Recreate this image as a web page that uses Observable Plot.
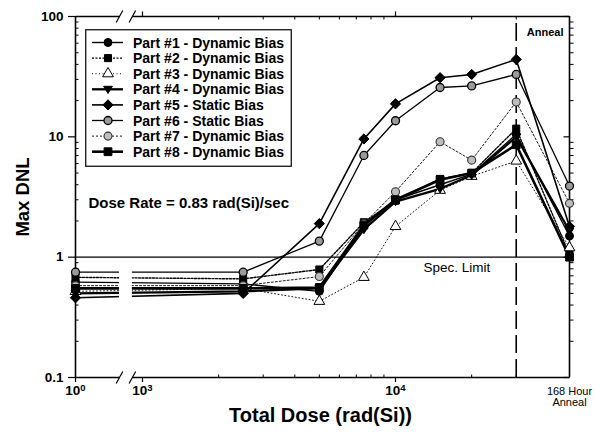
<!DOCTYPE html>
<html><head><meta charset="utf-8">
<script src="https://cdn.jsdelivr.net/npm/d3@7"></script>
<script src="https://cdn.jsdelivr.net/npm/@observablehq/plot@0.6"></script>
<style>
body{margin:0;background:#fff;font-family:"Liberation Sans",Arial,sans-serif}
#wrap{position:relative;width:594px;height:436px;overflow:hidden}
#legend{position:absolute;left:85px;top:29px}
</style></head>
<body><div id="wrap"></div>
<script>
// ---- data ----
const doses = [1, 2500, 5000, 7500, 10000, 15000, 20000, 30000, "Anneal"];
const partNames = [
  "Part #1 - Dynamic Bias", "Part #2 - Dynamic Bias", "Part #3 - Dynamic Bias",
  "Part #4 - Dynamic Bias", "Part #5 - Static Bias", "Part #6 - Static Bias",
  "Part #7 - Dynamic Bias", "Part #8 - Dynamic Bias"
];
const part1 = [0.62, 0.60, 0.52, 1.80, 3.00, 4.00, 4.90, 10.5, 1.50];
const part2 = [0.68, 0.66, 0.79, 1.95, 2.95, 4.47, 5.00, 11.7, 1.05];
const part3 = [0.52, 0.55, 0.43, 0.68, 1.80, 3.60, 4.70, 6.30, 1.20];
const part4 = [0.50, 0.52, 0.55, 1.70, 2.90, 3.70, 4.80, 10.0, 1.65];
const part5 = [0.46, 0.50, 1.90, 9.60, 18.8, 31.0, 33.0, 44.0, 1.80];
const part6 = [0.75, 0.75, 1.36, 7.00, 13.6, 25.7, 26.5, 33.0, 3.90];
const part7 = [0.58, 0.58, 0.69, 1.90, 3.50, 9.10, 6.40, 19.5, 2.80];
const part8 = [0.55, 0.55, 0.56, 1.85, 3.00, 4.40, 5.00, 8.60, 1.00];
const series = [part1, part2, part3, part4, part5, part6, part7, part8];

const yTicks = [0.1, 1, 10, 100];
const yTickLabels = ["0.1", "1", "10", "100"];
const xTickDoses = [1, 1000, 10000];
const xTickLabels = ["10\u2070", "10\u00B3", "10\u2074"];
const annealLabel = "168 Hour\nAnneal";
const specLimit = 1;
const annealDose = 30000;

// ---- broken axis coordinate ----
const U_ZERO = -0.2648, U_ANNEAL = 1.6877;
const BREAK_A = -0.091, BREAK_B = -0.040;
const xPos = d => d === "Anneal" ? U_ANNEAL : d <= 1 ? U_ZERO : Math.log10(d) - 3;

// ---- styles ----
const downTri = {draw(ctx, size){const r=Math.sqrt(size/Math.PI);ctx.moveTo(0,r*1.05);ctx.lineTo(-r*1.1,-r*0.75);ctx.lineTo(r*1.1,-r*0.75);ctx.closePath();}};
const styles = [
  {sym: d3.symbolCircle,   fill:"#000", stroke:"#000", sw:1.4, dash:null,     r:4,   mw:1},
  {sym: d3.symbolSquare,   fill:"#000", stroke:"#000", sw:1.4, dash:"2,1.5",  r:4,   mw:1},
  {sym: d3.symbolTriangle, fill:"#fff", stroke:"#000", sw:0.9, dash:"1,2.5",  r:4,   mw:1},
  {sym: downTri,           fill:"#000", stroke:"#000", sw:2.3, dash:null,     r:4,   mw:1},
  {sym: d3.symbolDiamond2, fill:"#000", stroke:"#000", sw:1.6, dash:null,     r:4.6, mw:1},
  {sym: d3.symbolCircle,   fill:"#9a9a9a", stroke:"#000", sw:1.3, dash:null, r:4,   mw:1.3},
  {sym: d3.symbolCircle,   fill:"#bdbdbd", stroke:"#333", sw:0.9, dash:"2,2", r:4,   mw:1.1},
  {sym: d3.symbolSquare,   fill:"#000", stroke:"#000", sw:2.6, dash:null,     r:4.4, mw:1}
];

const tickSym = (dx, dy) => ({draw(ctx, size){const r=Math.sqrt(size/Math.PI);ctx.moveTo(0,0);ctx.lineTo(dx*r,dy*r);}});
const slashSym = {draw(ctx, size){const r=Math.sqrt(size/Math.PI);ctx.moveTo(-r*0.55,r);ctx.lineTo(r*0.55,-r);}};

const rows = series.map((vals, i) => doses.map((d, j) => ({part: partNames[i], dose: d, value: vals[j]})));

const yMinor = [];
for (const dec of [0.1, 1, 10]) for (let k = 2; k <= 9; k++) yMinor.push(+(k*dec).toPrecision(3));
const xMinor = [];
for (let k = 2; k <= 9; k++) xMinor.push(k*1000);
xMinor.push(20000, 30000);

const lineMarks = rows.map((r, i) => Plot.line(r, {
  x: d => xPos(d.dose), y: "value", stroke: "#000",
  strokeWidth: styles[i].sw, strokeDasharray: styles[i].dash || undefined
}));
const dotMarks = rows.map((r, i) => Plot.dot(r, {
  x: d => xPos(d.dose), y: "value", r: styles[i].r, symbol: styles[i].sym,
  fill: styles[i].fill, stroke: styles[i].stroke, strokeWidth: styles[i].mw
}));

const axisSegs = [{a: U_ZERO, b: BREAK_A}, {a: BREAK_B, b: U_ANNEAL}];
const frameCol = "#000";
const xTickU = xTickDoses.map(xPos);

const chart = Plot.plot({
  width: 594, height: 436,
  marginLeft: 75, marginRight: 25, marginTop: 16, marginBottom: 59,
  x: {type: "linear", domain: [U_ZERO, U_ANNEAL], axis: null},
  y: {type: "log", domain: [0.1, 100], axis: null},
  style: {fontFamily: "'Liberation Sans', Arial, sans-serif", color: "#000", background: "#fff"},
  marks: [
    ...lineMarks,
    Plot.rect([0], {x1: () => BREAK_A, x2: () => BREAK_B, y1: () => 0.1, y2: () => 100, fill: "#fff"}),
    Plot.ruleY([specLimit], {x1: U_ZERO, x2: U_ANNEAL, stroke: "#000", strokeWidth: 1.1}),
    Plot.ruleX([annealDose], {x: d => xPos(d), y1: 0.1, y2: 100, stroke: "#000", strokeWidth: 1.6, strokeDasharray: "18,6"}),
    // frame
    Plot.ruleX([U_ZERO, U_ANNEAL], {y1: 0.1, y2: 100, stroke: frameCol, strokeWidth: 1.6}),
    Plot.link(axisSegs, {x1: "a", x2: "b", y1: () => 0.1, y2: () => 0.1, stroke: frameCol, strokeWidth: 1.6}),
    Plot.link(axisSegs, {x1: "a", x2: "b", y1: () => 100, y2: () => 100, stroke: frameCol, strokeWidth: 1.4}),
    Plot.dot([BREAK_A, BREAK_B], {x: d => d, y: () => 0.1, symbol: slashSym, r: 6, fill: "none", stroke: "#000", strokeWidth: 1.2}),
    Plot.dot([BREAK_A, BREAK_B], {x: d => d, y: () => 100, symbol: slashSym, r: 6, fill: "none", stroke: "#000", strokeWidth: 1.2}),
    // minor ticks
    Plot.dot(yMinor, {x: () => U_ZERO, y: d => d, symbol: tickSym(1, 0), r: 3, fill: "none", stroke: "#000", strokeWidth: 1}),
    Plot.dot(yMinor, {x: () => U_ANNEAL, y: d => d, symbol: tickSym(1, 0), r: 4, fill: "none", stroke: "#000", strokeWidth: 1}),
    Plot.dot(yTicks, {x: () => U_ANNEAL, y: d => d, symbol: tickSym(-1, 0), r: 6, fill: "none", stroke: "#000", strokeWidth: 1.2}),
    Plot.dot(xMinor, {x: d => xPos(d), y: () => 0.1, symbol: tickSym(0, -1), r: 3, fill: "none", stroke: "#000", strokeWidth: 1}),
    Plot.dot(xMinor, {x: d => xPos(d), y: () => 100, symbol: tickSym(0, 1), r: 3, fill: "none", stroke: "#000", strokeWidth: 1}),
    Plot.dot(xTickDoses.slice(1), {x: d => xPos(d), y: () => 100, symbol: tickSym(0, -1), r: 5, fill: "none", stroke: "#000", strokeWidth: 1.2}),
    // axes
    Plot.axisY({ticks: yTicks, tickFormat: d => yTickLabels[yTicks.indexOf(d)], tickSize: 7, tickPadding: 5,
      fontSize: 13.5, fontWeight: "bold", strokeWidth: 1.2, label: null}),
    Plot.axisX({ticks: xTickU, tickFormat: u => xTickLabels[xTickU.indexOf(u)],
      tickSize: 5, tickPadding: 3, fontSize: 13.5, fontWeight: "bold", strokeWidth: 1.2, label: null}),
    Plot.text([annealLabel], {x: () => U_ANNEAL, y: () => 0.1, text: d => d, dy: 9, lineAnchor: "top",
      fontSize: 11, lineHeight: 1.05}),
    Plot.text(["Max DNL"], {text: d => d, frameAnchor: "left", textAnchor: "middle", rotate: -90, dx: -52, fontSize: 18.5, fontWeight: "bold"}),
    Plot.text(["Total Dose (rad(Si))"], {text: d => d, frameAnchor: "bottom", textAnchor: "middle", dx: -2, dy: 44, fontSize: 20, fontWeight: "bold"}),
    Plot.text(["Dose Rate = 0.83 rad(Si)/sec"], {text: d => d, frameAnchor: "top-left", dx: 13, dy: 181, textAnchor: "start", fontSize: 15, fontWeight: "bold"}),
    Plot.text(["Spec. Limit"], {text: d => d, x: () => xPos(annealDose), y: () => specLimit, dx: -26, dy: 11, textAnchor: "end", fontSize: 13.5}),
    Plot.text(["Anneal"], {text: d => d, x: () => U_ANNEAL, y: () => 100, dx: -6, dy: 16, textAnchor: "end", fontSize: 11, fontWeight: "bold"}),
    ...dotMarks
  ]
});
document.getElementById("wrap").appendChild(chart);

// render superscripts on x tick labels as real tspans
const supMap = {"\u2070": "0", "\u00B3": "3", "\u2074": "4"};
d3.select(chart).selectAll("text").each(function() {
  const t = this.textContent;
  const m = /^10([\u2070\u00B3\u2074])$/.exec(t);
  if (m && this.children.length === 0) {
    const el = d3.select(this);
    el.text(null);
    el.append("tspan").text("10");
    el.append("tspan").attr("dy", "-0.45em").attr("font-size", "9.5").text(supMap[m[1]]);
  }
});

// ---- legend ----
const lw = 207, lh = 138;
const lg = d3.create("svg").attr("id", "legend").attr("width", lw).attr("height", lh)
  .style("font-family", "'Liberation Sans', Arial, sans-serif");
lg.append("rect").attr("x", 0.75).attr("y", 0.75).attr("width", lw - 1.5).attr("height", lh - 1.5)
  .attr("fill", "#fff").attr("stroke", "#000").attr("stroke-width", 1.2);
partNames.forEach((name, i) => {
  const s = styles[i];
  const y = 13.5 + i * 15.6;
  const g = lg.append("g").attr("transform", `translate(0,${y})`);
  g.append("line").attr("x1", 7).attr("x2", 38).attr("y1", 0).attr("y2", 0)
    .attr("stroke", "#000").attr("stroke-width", s.sw).attr("stroke-dasharray", s.dash);
  g.append("path").attr("transform", "translate(23,0)")
    .attr("d", d3.symbol(s.sym, s.r * s.r * Math.PI)())
    .attr("fill", s.fill).attr("stroke", s.stroke).attr("stroke-width", s.mw);
  g.append("text").attr("x", 48).attr("y", 0).attr("dy", "0.36em")
    .attr("font-size", 14).attr("font-weight", "bold").text(name);
});
document.getElementById("wrap").appendChild(lg.node());
</script>
</body></html>
